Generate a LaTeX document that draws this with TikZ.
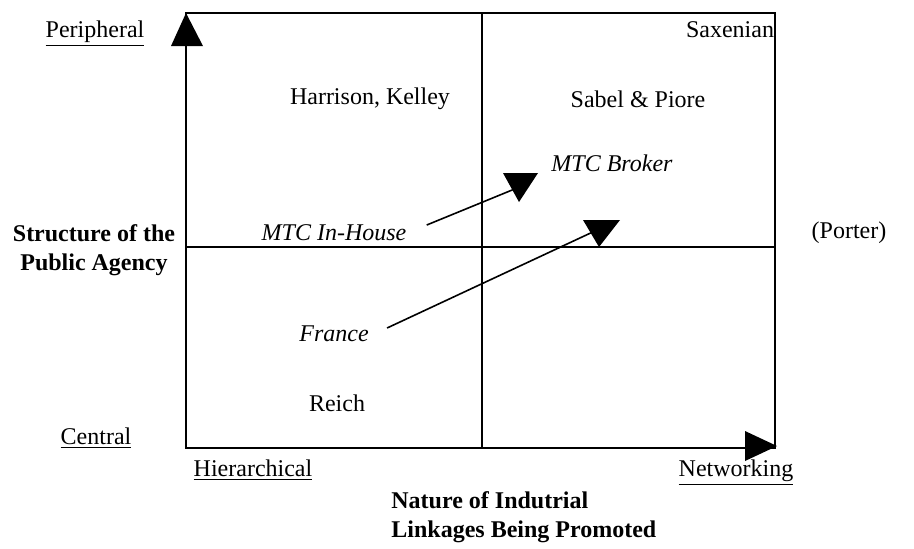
\documentclass[tikz,border=0pt]{standalone}
\usepackage{fontspec}
\setmainfont{Liberation Serif}

\begin{document}
\begin{tikzpicture}[x=0.5pt,y=-0.5pt,
  lbl/.style={inner sep=0pt,font=\fontsize{12}{14.4}\selectfont},
  ital/.style={lbl,font=\fontsize{12}{14.4}\selectfont\itshape},
  heading/.style={lbl,font=\fontsize{12}{14.6}\selectfont\bfseries},
  frame/.style={line width=1.1pt},
  link/.style={line width=0.8pt},
  head/.style={fill=black}]
\useasboundingbox (0,0) rectangle (914,548);

% quadrant frame and axes
\coordinate (origin) at (186,448);
\coordinate (ytop) at (186,13);
\coordinate (corner) at (775,13);
\coordinate (xend) at (775,448);
\coordinate (midtop) at (482,13);
\coordinate (midbot) at (482,448);
\coordinate (midleft) at (186,247);
\coordinate (midright) at (775,247);
\draw[frame] (origin) -- (ytop) -- (corner) -- (xend) -- cycle;
\draw[frame] (midtop) -- (midbot);
\draw[frame] (midleft) -- (midright);
\fill[head] (ytop) -- (203,46) -- (171,46) -- cycle;
\fill[head] (777,446) -- (745,431) -- (745,461) -- cycle;

% axis labels
\node[lbl] (peripheral) at (95,34) {\underline{Peripheral}};
\node[lbl] (central) at (96,438) {\underline{Central}};
\node[lbl,anchor=base] (hier) at (253,476) {\underline{Hierarchical}};
\node[lbl,anchor=base] (netw) at (736,476) {\underline{Networking}};
\node[heading,align=center] (yname) at (94,250) {Structure of the\\Public Agency};
\node[heading,align=left,anchor=north west] (xname) at (391,491) {Nature of Indutrial\\Linkages Being Promoted};

% authors in the quadrants
\node[lbl] (saxenian) at (730,30) {Saxenian};
\node[lbl] (harrison) at (370,99) {Harrison, Kelley};
\node[lbl] (sabel) at (638,99) {Sabel \& Piore};
\node[lbl] (porter) at (849,233) {(Porter)};
\node[lbl] (reich) at (337,403) {Reich};

% moves
\node[ital] (broker) at (612,163) {MTC Broker};
\node[ital] (inhouse) at (334,233) {MTC In-House};
\node[ital] (france) at (334,334) {France};
\coordinate (brokertip) at (517,188);
\coordinate (portertip) at (597,230);
\draw[link] ([xshift=10pt,yshift=4pt]inhouse.east) -- (brokertip);
\fill[head] (503,173) -- (538,173) -- (519,202) -- cycle;
\draw[link] ([xshift=9pt,yshift=3pt]france.east) -- (portertip);
\fill[head] (583,220) -- (620,220) -- (599,247) -- cycle;
\end{tikzpicture}
\end{document}
